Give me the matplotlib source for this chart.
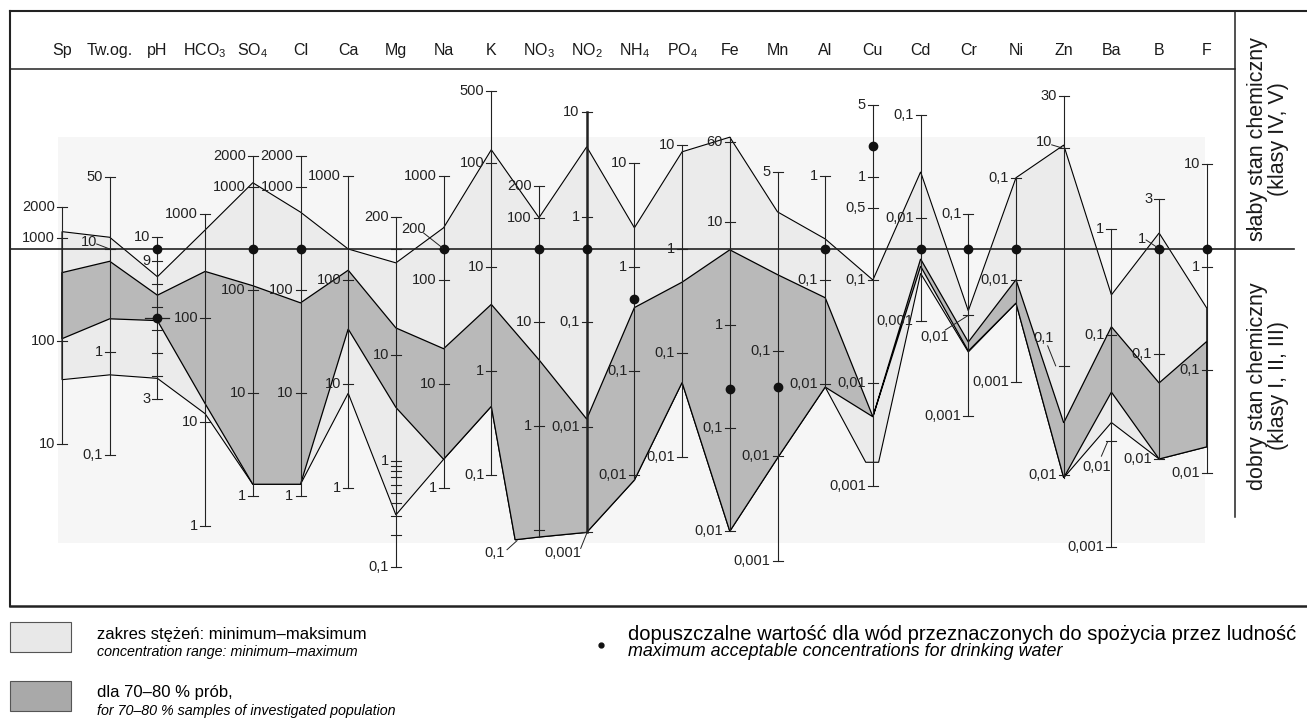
import numpy as np
import matplotlib.pyplot as plt
from matplotlib.patches import Rectangle

plt.rcParams["font.family"] = ["Liberation Sans", "DejaVu Sans"]
plt.rcParams["mathtext.fontset"] = "custom"
plt.rcParams["mathtext.rm"] = "Liberation Sans"
plt.rcParams["mathtext.it"] = "Liberation Sans:italic"

# parametry (osie)
names = ["Sp", "Tw", "pH", "HCO3", "SO4", "Cl", "Ca", "Mg", "Na", "K", "NO3", "NO2",
         "NH4", "PO4", "Fe", "Mn", "Al", "Cu", "Cd", "Cr", "Ni", "Zn", "Ba", "B", "F"]
heads = ["Sp", "Tw.og.", "pH", "HCO$_3$", "SO$_4$", "Cl", "Ca", "Mg", "Na", "K",
         "NO$_3$", "NO$_2$", "NH$_4$", "PO$_4$", "Fe", "Mn", "Al", "Cu", "Cd", "Cr",
         "Ni", "Zn", "Ba", "B", "F"]

# wartosc na granicy stanu dobry/slaby i skala osi (px na dekade, dla pH px na jednostke)
thr = [780, 10, 9.5, 460, 250, 250, 200, 100, 200, 15, 50, 0.5,
       1.5, 1, 5.5, 0.93, 0.2, 0.2, 0.005, 0.045, 0.02, 1.18, 0.65, 1, 1.5]
dec = [103, 103, 23.1, 104, 103, 103, 104, 106, 104, 104, 104, 105,
       104, 104, 103, 105, 104, 103, 103, 101, 102, 109, 106, 105, 103]

# zakres min-max
light_max = [1150, 13, 8.3, 700, 1100, 570, 200, 74, 320, 135, 100, 4.7,
             2.4, 8.6, 67, 2.1, 0.25, 0.1, 0.028, 0.011, 0.1, 10.6, 0.24, 1.42, 0.4]
light_min = [42, 0.6, 3.9, 12, 1.3, 1.3, 8.2, 0.31, 1.9, 0.46, 0.085, 0.001,
             0.009, 0.052, 0.01, 0.0095, 0.0094, 0.0017, 0.0029, 0.0043, 0.0059, 0.0094, 0.015, 0.01, 0.018]
# 70-80 % prob
dark_max = [460, 7.6, 7.5, 280, 110, 75, 125, 18, 22, 4.4, 4.3, 0.012,
            0.41, 0.48, 5.4, 0.53, 0.068, 0.0047, 0.004, 0.0054, 0.01, 0.03, 0.12, 0.053, 0.19]
dark_min = [105, 2.1, 6.4, 15, 1.3, 1.3, 34, 3.2, 1.9, 0.46, 0.085, 0.001,
            0.009, 0.052, 0.01, 0.0095, 0.0094, 0.0047, 0.0034, 0.0044, 0.0059, 0.0094, 0.029, 0.01, 0.018]
# dodatkowe wierzcholki (pozycja, os skali, wartosc)
kinks_low = [(9.5, 10, 0.08)]
kinks_cu = [(16.85, 17, 0.0017), (17.12, 17, 0.0017)]

tick_vals = [
    [2000, 1000, 100, 10],
    [50, 10, 1, 0.1],
    [10, 9, 8, 7, 6, 5, 4, 3],
    [1000, 100, 10, 1],
    [2000, 1000, 100, 10, 1],
    [2000, 1000, 100, 10, 1],
    [1000, 100, 10, 1],
    [200, 100, 10, 1, 0.1],
    [1000, 200, 100, 10, 1],
    [500, 100, 10, 1, 0.1],
    [200, 100, 10, 1, 0.1],
    [10, 1, 0.1, 0.01, 0.001],
    [10, 1, 0.1, 0.01],
    [10, 1, 0.1, 0.01],
    [60, 10, 1, 0.1, 0.01],
    [5, 0.1, 0.01, 0.001],
    [1, 0.1, 0.01],
    [5, 1, 0.5, 0.1, 0.01, 0.001],
    [0.1, 0.01, 0.001],
    [0.1, 0.01, 0.001],
    [0.1, 0.01, 0.001],
    [30, 10, 0.1, 0.01],
    [1, 0.1, 0.01, 0.001],
    [3, 1, 0.1, 0.01],
    [10, 1, 0.1, 0.01],
]
no_label = [("pH", 8), ("pH", 7), ("pH", 6), ("pH", 5), ("pH", 4), ("Mg", 100)]
mg_minor = [0.9, 0.8, 0.7, 0.6, 0.5, 0.4, 0.3, 0.2]

# dopuszczalne wartosci dla wod pitnych
dot_names = ["pH", "pH", "SO4", "Cl", "Na", "NO3", "NO2", "NH4", "Fe", "Mn",
             "Al", "Cu", "Cd", "Cr", "Ni", "B", "F"]
dot_vals = [9.5, 6.5, 250, 250, 200, 50, 0.5, 0.5, 0.24, 0.045,
            0.2, 2, 0.005, 0.045, 0.02, 1, 1.5]

# etykiety z odnosnikiem: (dx, dy etykiety, poczatek linii, koniec linii)
leaders = {
    ("Tw", 10): (-21, -7, -13, -5, 0, 0),
    ("Na", 200): (-30, -20, -20, -16, -1, -1),
    ("NO3", 0.1): (-44, 23, -32, 20, -22, 11),
    ("NO2", 0.001): (-24, 21, -6, 16, 0, 1),
    ("Cr", 0.01): (-34, 22, -23, 15, -1, 1),
    ("Zn", 10): (-20, -6, -12, -3, -2, 0),
    ("Zn", 0.1): (-20, -28, -16, -20, -8, 0),
    ("Ba", 0.01): (-15, 26, -10, 15, -4, 1),
    ("B", 1): (-17, -10, -13, -9, -1, -1),
}

LIGHT = "#ebebeb"
DARK = "#b9b9b9"
Y0 = 249
X0, DX = 62, 47.7
TFS = 10.5


def xpos(p):
    return X0 + DX * p


def ypos(i, v):
    if names[i] == "pH":
        return Y0 - dec[i] * (v - thr[i])
    return Y0 - dec[i] * (np.log10(v) - np.log10(thr[i]))


def boundary(vals, extra=()):
    pts = [(i, i, v) for i, v in enumerate(vals)] + list(extra)
    pts.sort(key=lambda t: t[0])
    return [(xpos(p), ypos(a, v)) for p, a, v in pts]


def fmt(v):
    return f"{v:g}".replace(".", ",")


fig = plt.figure(figsize=(13.07, 7.27), dpi=100)
ax = fig.add_axes([0, 0, 1, 1])
ax.set_xlim(0, 1307)
ax.set_ylim(727, 0)
ax.axis("off")

ax.add_patch(Rectangle((58, 137), 1147, 406, fc="#f6f6f6", ec="none", zorder=0))

# wieloboki
top = boundary(light_max)
bot = boundary(light_min, kinks_low + kinks_cu)
pts = top + bot[::-1]
ax.fill([p[0] for p in pts], [p[1] for p in pts], fc=LIGHT, ec="black", lw=0.8, zorder=1)
top = boundary(dark_max)
bot = boundary(dark_min, kinks_low)
pts = top + bot[::-1]
ax.fill([p[0] for p in pts], [p[1] for p in pts], fc=DARK, ec="black", lw=0.9, zorder=2)

# osie
for i, nm in enumerate(names):
    x = xpos(i)
    ty = [ypos(i, v) for v in tick_vals[i]]
    py = [ypos(i, v) for v in (light_max[i], light_min[i])]
    ax.plot([x, x], [min(ty + py), max(ty + py)], color="#222222",
            lw=1.8 if nm == "NO2" else 0.8, zorder=3)
    for v, y in zip(tick_vals[i], ty):
        ax.plot([x - 5, x + 5], [y, y], color="#222222", lw=0.8, zorder=3)
        if (nm, v) in no_label:
            continue
        if (nm, v) in leaders:
            lx, ly, sx, sy, ex, ey = leaders[(nm, v)]
            ax.text(x + lx, y + ly, fmt(v), ha="center", va="center", fontsize=TFS,
                    color="#222222", zorder=6)
            ax.plot([x + sx, x + ex], [y + sy, y + ey], color="#222222", lw=0.7, zorder=6)
        else:
            ax.text(x - 7, y, fmt(v), ha="right", va="center", fontsize=TFS,
                    color="#222222", zorder=6)
    if nm == "Mg":
        for v in mg_minor:
            y = ypos(i, v)
            ax.plot([x - 5, x + 5], [y, y], color="#222222", lw=0.8, zorder=3)
    ax.text(x, 55, heads[i], ha="center", va="baseline", fontsize=11.5, color="#1a1a1a")

# szeroki znacznik pH 6,5
i = names.index("pH")
ax.plot([xpos(i) - 12, xpos(i) + 12], [ypos(i, 6.5)] * 2, color="#222222", lw=0.9, zorder=3)

# kropki
for nm, v in zip(dot_names, dot_vals):
    i = names.index(nm)
    ax.plot(xpos(i), ypos(i, v), "o", color="#111111", ms=6, zorder=5)

# ramka i linie podzialu
ax.plot([10, 1307], [11, 11], color="#222222", lw=1.5)
ax.plot([10, 1307], [606, 606], color="#222222", lw=1.8)
ax.plot([10, 10], [11, 606], color="#222222", lw=1.5)
ax.plot([10, 1235], [69, 69], color="#222222", lw=1.1)
ax.plot([10, 1294], [Y0, Y0], color="#222222", lw=1.2, zorder=4)
ax.plot([1235, 1235], [11, 517], color="#222222", lw=1.1)

ax.text(1268, 139, "słaby stan chemiczny\n(klasy IV, V)", rotation=90, ha="center",
        va="center", fontsize=15.5, linespacing=1.0, color="#1a1a1a")
ax.text(1268, 386, "dobry stan chemiczny\n(klasy I, II, III)", rotation=90, ha="center",
        va="center", fontsize=15.5, linespacing=1.0, color="#1a1a1a")

# legenda
ax.add_patch(Rectangle((10, 622), 61, 30, fc="#e8e8e8", ec="#555555", lw=0.8))
ax.add_patch(Rectangle((10, 681), 61, 30, fc="#a9a9a9", ec="#555555", lw=0.8))
ax.text(97, 634, "zakres stężeń: minimum–maksimum", fontsize=12, va="center")
ax.text(97, 652, "concentration range: minimum–maximum", fontsize=10.3, va="center",
        style="italic")
ax.text(97, 693, "dla 70–80 % prób,", fontsize=12, va="center")
ax.text(97, 711, "for 70–80 % samples of investigated population", fontsize=10.3,
        va="center", style="italic")
ax.plot(601, 645, "o", color="#111111", ms=3.5)
ax.text(628, 634, "dopuszczalne wartość dla wód przeznaczonych do spożycia przez ludność",
        fontsize=14.5, va="center")
ax.text(628, 652, "maximum acceptable concentrations for drinking water", fontsize=12.9,
        va="center", style="italic")

fig.savefig("out.png", dpi=100)
